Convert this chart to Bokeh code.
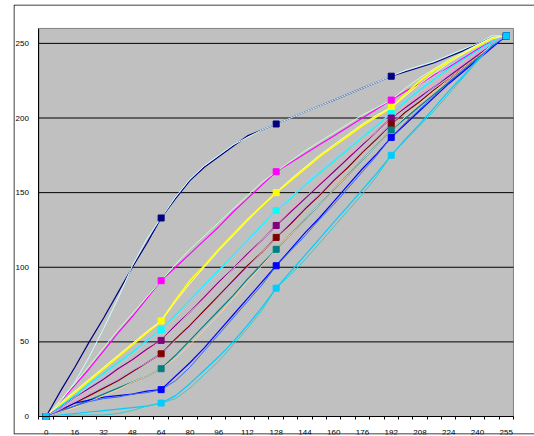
from bokeh.plotting import figure
from bokeh.models import Range1d, FixedTicker
from bokeh.embed import file_html
from bokeh.resources import INLINE

# Input levels along the category axis (every second one is labelled)
levels = [0, 8, 16, 24, 32, 40, 48, 56, 64, 72, 80, 88, 96, 104, 112, 120, 128,
          136, 144, 152, 160, 168, 176, 184, 192, 200, 208, 216, 224, 232, 240, 248, 255]
marked_levels = [0, 64, 128, 192, 255]
y_ticks = [0, 50, 100, 150, 200, 250]
y_max = 260

# Tone curves (output level per input level)
navy = [0, 17, 33, 50, 66, 83, 100, 116, 133, 146, 158, 167, 174, 181, 188, 192, 196,
        200, 204, 208, 212, 216, 220, 224, 228, 231, 234, 237, 241, 245, 250, 254, 255]
magenta = [0, 10, 21, 32, 44, 56, 67, 79, 91, 100, 109, 118, 127, 137, 146, 155, 164,
           170, 176, 182, 188, 194, 200, 206, 212, 218, 223, 229, 234, 240, 246, 252, 255]
yellow = [0, 8, 16, 24, 32, 40, 48, 56, 64, 78, 91, 101, 112, 122, 132, 141, 150,
          158, 166, 174, 181, 188, 195, 201, 207, 216, 225, 232, 238, 243, 248, 253, 255]
cyan = [0, 7, 14, 22, 29, 36, 43, 51, 58, 68, 78, 88, 98, 108, 118, 128, 138,
        146, 155, 163, 171, 179, 187, 195, 203, 211, 219, 226, 233, 239, 245, 251, 255]
purple = [0, 6, 13, 19, 25, 32, 38, 45, 51, 61, 70, 80, 90, 99, 109, 118, 128,
          137, 146, 155, 164, 173, 182, 191, 200, 207, 214, 221, 228, 235, 242, 249, 255]
maroon = [0, 4, 9, 14, 19, 24, 30, 36, 42, 52, 61, 71, 81, 91, 101, 110, 120,
          129, 139, 148, 158, 167, 177, 186, 196, 204, 211, 219, 226, 234, 241, 248, 255]
teal = [0, 3, 7, 11, 15, 19, 23, 27, 32, 41, 51, 61, 71, 81, 92, 102, 112,
        122, 132, 142, 152, 162, 172, 182, 192, 200, 208, 216, 224, 232, 240, 248, 255]
blue = [0, 5, 9, 11, 13, 14, 15, 17, 18, 27, 36, 46, 57, 68, 79, 90, 101,
        112, 123, 133, 144, 155, 166, 176, 187, 196, 205, 214, 223, 231, 239, 247, 255]
sky = [0, 1, 2, 3, 4, 5, 6, 7, 9, 14, 22, 31, 40, 50, 61, 73, 86,
       97, 108, 119, 130, 141, 152, 163, 175, 186, 196, 207, 218, 228, 239, 250, 255]

# Companion curves, drawn thin in pale colours
navy_b = [0, 10, 23, 40, 59, 79, 101, 119, 133, 147, 159, 168, 175, 182, 187, 192, 196,
          200, 204, 208, 212, 216, 220, 224, 228, 232, 235, 238, 242, 246, 250, 255, 255]
magenta_b = [0, 11, 22, 34, 46, 58, 69, 80, 91, 102, 112, 121, 130, 139, 148, 157, 164,
             171, 178, 184, 190, 196, 202, 207, 212, 220, 227, 233, 239, 244, 249, 254, 255]
yellow_b = [0, 9, 17, 25, 33, 41, 49, 57, 64, 77, 89, 100, 111, 121, 131, 141, 150,
            159, 167, 175, 182, 189, 196, 202, 207, 215, 223, 230, 237, 243, 249, 254, 255]
cyan_b = [0, 6, 13, 20, 27, 34, 42, 50, 58, 67, 77, 87, 97, 107, 117, 127, 138,
          147, 156, 165, 173, 181, 189, 196, 203, 212, 220, 228, 235, 241, 247, 252, 255]
purple_b = [0, 5, 11, 17, 24, 30, 37, 44, 51, 60, 70, 79, 89, 99, 108, 118, 128,
            138, 147, 156, 165, 174, 183, 191, 200, 208, 216, 223, 230, 237, 244, 250, 255]
maroon_b = [0, 5, 10, 15, 20, 25, 31, 36, 42, 51, 60, 70, 80, 90, 100, 110, 120,
            130, 140, 149, 159, 168, 178, 187, 196, 205, 213, 221, 229, 236, 243, 250, 255]
teal_b = [0, 3, 6, 10, 14, 18, 23, 27, 32, 39, 48, 58, 68, 79, 90, 101, 112,
          122, 132, 142, 152, 162, 172, 182, 192, 201, 210, 218, 226, 234, 241, 249, 255]
blue_b = [0, 4, 7, 10, 12, 13, 15, 16, 18, 24, 33, 44, 55, 66, 77, 88, 101,
          111, 121, 132, 142, 153, 164, 175, 187, 197, 206, 215, 224, 232, 240, 248, 255]
sky_b = [0, 0, 1, 1, 1, 2, 4, 7, 9, 12, 19, 28, 37, 48, 59, 71, 86,
         95, 105, 116, 127, 138, 149, 161, 175, 185, 195, 205, 216, 227, 238, 249, 255]

main_series = [
    (navy, "#000080"), (magenta, "#FF00FF"), (yellow, "#FFFF00"), (cyan, "#00FFFF"),
    (purple, "#800080"), (maroon, "#800000"), (teal, "#008080"), (blue, "#0000FF"),
    (sky, "#00CCFF"),
]
pale_series = [
    (navy_b, "#CCFFFF"), (magenta_b, "#CCFFCC"), (yellow_b, "#FFFF99"), (cyan_b, "#99CCFF"),
    (purple_b, "#FF99CC"), (maroon_b, "#CC99FF"), (teal_b, "#FFCC99"), (blue_b, "#3366FF"),
    (sky_b, "#33CCCC"),
]

pos = list(range(len(levels)))
mark_pos = [levels.index(v) for v in marked_levels]
x_lo, x_hi = -0.5, len(levels) - 0.5

# Frame covers the whole chart area; the plot area is drawn inside it
W, H = 534, 436
FL, FT, FB = 13, 4, 2
px_x = 14.38            # pixels per category
px_y = 1.4925           # pixels per output level
x0_pix, y0_pix = 45.6, 416.0
x_start = -(x0_pix - FL) / px_x
x_end = x_start + (W - FL) / px_x
y_end = (y0_pix - FT) / px_y
y_start = y_end - (H - FT - FB) / px_y

p = figure(width=W, height=H, output_backend="svg", toolbar_location=None,
           x_range=Range1d(x_start, x_end), y_range=Range1d(y_start, y_end),
           min_border_left=FL, min_border_right=0, min_border_top=FT, min_border_bottom=FB)
p.background_fill_color = "white"
p.border_fill_color = "white"
p.outline_line_color = None
p.xgrid.grid_line_color = None
p.ygrid.grid_line_color = None

# chart-area border (left, top, bottom)
ex = 0.5 / px_x
ey = 0.5 / px_y
p.segment(x0=[x_start + ex, x_start + ex, x_start + ex],
          y0=[y_start + ey, y_end - ey, y_start + ey],
          x1=[x_start + ex, x_end + 1, x_end + 1],
          y1=[y_end - ey, y_end - ey, y_start + ey],
          line_color="black", line_width=1)

# grey plot area
p.quad(left=[x_lo], right=[x_hi], bottom=[0], top=[y_max],
       fill_color="#C0C0C0", line_color="#808080", line_width=1)

# horizontal gridlines
p.segment(x0=[x_lo] * (len(y_ticks) - 1), x1=[x_hi] * (len(y_ticks) - 1),
          y0=y_ticks[1:], y1=y_ticks[1:], line_color="black", line_width=1)

FONT = "Liberation Sans"

# category axis: labels on every second level, ticks on category boundaries
xa = p.xaxis[0]
xa.fixed_location = 0
xa.bounds = (x_lo, x_hi)
xa.ticker = FixedTicker(ticks=pos[::2], minor_ticks=[i - 0.5 for i in range(len(levels) + 1)])
xa.major_label_overrides = {i: str(levels[i]) for i in pos[::2]}
xa.major_tick_in = 0
xa.major_tick_out = 0
xa.minor_tick_in = 0
xa.minor_tick_out = 3
xa.minor_tick_line_color = "black"
xa.axis_line_color = "black"
xa.major_label_standoff = 10
xa.major_label_text_font = FONT
xa.major_label_text_font_size = "8px"
xa.major_label_text_color = "black"

ya = p.yaxis[0]
ya.fixed_location = x_lo
ya.bounds = (0, y_max)
ya.ticker = FixedTicker(ticks=y_ticks)
ya.major_tick_in = 0
ya.major_tick_out = 0
ya.minor_tick_line_color = None
ya.axis_line_color = "black"
ya.major_label_standoff = 10
ya.major_label_text_font = FONT
ya.major_label_text_font_size = "8px"
ya.major_label_text_color = "black"

for vals, col in main_series:
    p.line(pos, vals, line_color=col, line_width=1.8 if col == "#FFFF00" else 1.2)
for vals, col in pale_series:
    p.line(pos, vals, line_color=col, line_width=1)
for vals, col in main_series:
    p.scatter([pos[i] for i in mark_pos], [vals[i] for i in mark_pos], marker="square",
              size=6, fill_color=col, line_color=col)

open("out.html", "w").write(file_html(p, INLINE))
